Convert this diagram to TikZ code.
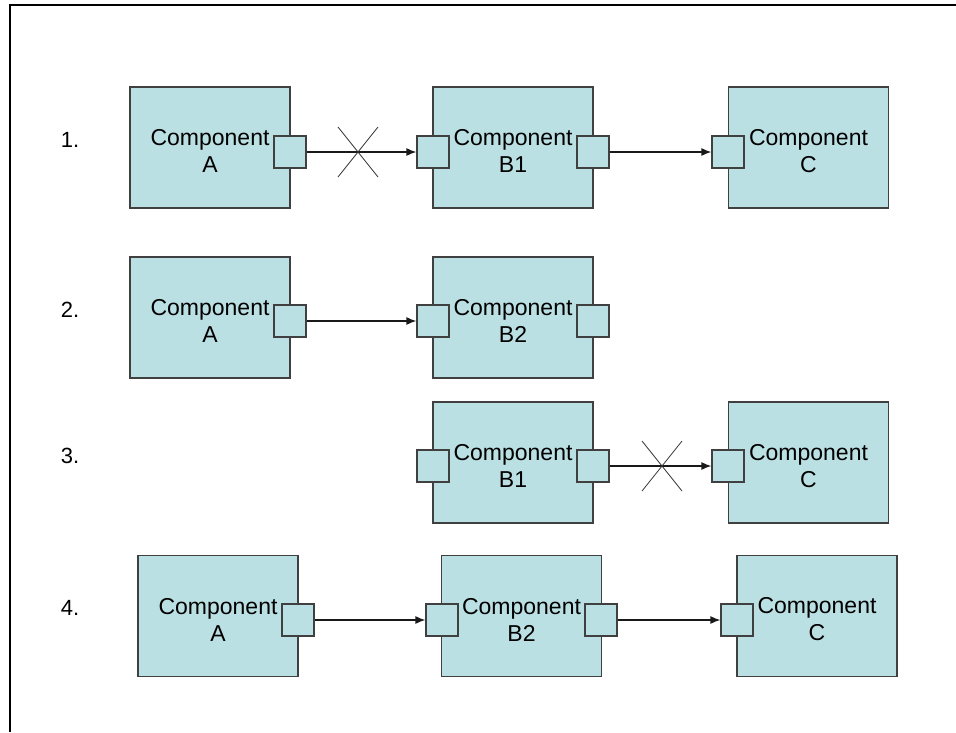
\documentclass[tikz,border=0pt]{standalone}
\usepackage{fontspec}
\setmainfont{Liberation Sans}
\usetikzlibrary{arrows.meta}
\definecolor{boxfill}{RGB}{187,224,227}
\definecolor{boxline}{RGB}{64,64,64}
\begin{document}
\begin{tikzpicture}[x=1pt, y=-1pt,
  comp/.style={draw=boxline, line width=1.2pt, fill=boxfill, minimum width=160pt, minimum height=121pt, inner sep=0pt, align=center, text height=50pt, font=\fontsize{23}{27}\selectfont},
  port/.style={draw=boxline, line width=1.2pt, fill=boxfill, minimum size=32pt, inner sep=0pt},
  conn/.style={line width=1.3pt, draw=black!90, -{Latex[length=10pt,width=8pt]}},
  cross/.style={line width=0.8pt, draw=black!80},
  rowlabel/.style={font=\fontsize{22}{26}\selectfont}]
\useasboundingbox (0,0) rectangle (956,732);

% Page frame
\draw[line width=2pt] (956,5) -- (10,5) -- (10,732);

% Row 1
\node[rowlabel] (n1) at (70,140) {1.};
\node[comp] (A1) at (210,147.5) {Component\\A};
\node[comp] (B1) at (513,147.5) {Component\\B1};
\node[comp] (C1) at (808.5,147.5) {Component\\C};
\node[port] (A1o) at (290,152) {};
\node[port] (B1i) at (433,152) {};
\node[port] (B1o) at (593,152) {};
\node[port] (C1i) at (728,152) {};
\draw[conn] (A1o) -- (B1i);
\draw[conn] (B1o) -- (C1i);
\coordinate (x1) at (358,152);
\draw[cross] (x1) +(-20,-25) -- +(20,25);
\draw[cross] (x1) +(-20,25) -- +(20,-25);

% Row 2
\node[rowlabel] (n2) at (70,310) {2.};
\node[comp] (A2) at (210,317.5) {Component\\A};
\node[comp] (B2) at (513,317.5) {Component\\B2};
\node[port] (A2o) at (290,321) {};
\node[port] (B2i) at (433,321) {};
\node[port] (B2o) at (593,321) {};
\draw[conn] (A2o) -- (B2i);

% Row 3
\node[rowlabel] (n3) at (70,456) {3.};
\node[comp] (B3) at (513,462.5) {Component\\B1};
\node[comp] (C3) at (808.5,462.5) {Component\\C};
\node[port] (B3i) at (433,466) {};
\node[port] (B3o) at (593,466) {};
\node[port] (C3i) at (728,466) {};
\draw[conn] (B3o) -- (C3i);
\coordinate (x3) at (662,466);
\draw[cross] (x3) +(-20,-25) -- +(20,25);
\draw[cross] (x3) +(-20,25) -- +(20,-25);

% Row 4
\node[rowlabel] (n4) at (70,608) {4.};
\node[comp] (A4) at (218,616) {Component\\A};
\node[comp] (B4) at (521.5,616) {Component\\B2};
\node[comp] (C4) at (817,616) {Component\\C};
\node[port] (A4o) at (298,620) {};
\node[port] (B4i) at (442,620) {};
\node[port] (B4o) at (601,620) {};
\node[port] (C4i) at (737,620) {};
\draw[conn] (A4o) -- (B4i);
\draw[conn] (B4o) -- (C4i);
\end{tikzpicture}
\end{document}
